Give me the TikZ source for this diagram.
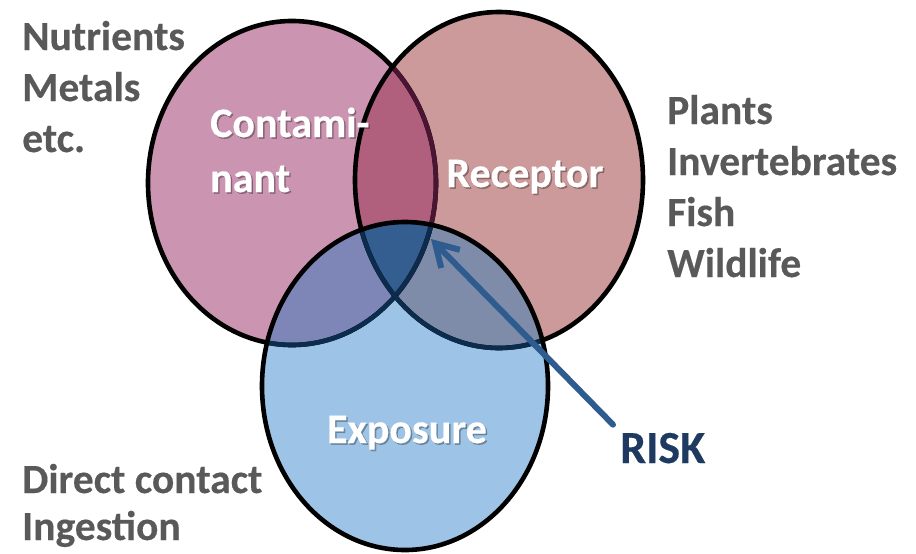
\documentclass[tikz,border=0pt]{standalone}
\usepackage{fontspec}
\setmainfont{Carlito}[BoldFeatures={FakeBold=0.35}]
\usetikzlibrary{arrows.meta}

\definecolor{contfill}{HTML}{CB95B1}
\definecolor{recfill}{HTML}{CC9A9A}
\definecolor{expfill}{HTML}{9DC4E6}
\definecolor{crfill}{HTML}{B0607C}
\definecolor{cefill}{HTML}{7D86B6}
\definecolor{refill}{HTML}{7E8CAA}
\definecolor{allfill}{HTML}{345E90}
\definecolor{ringmaroon}{HTML}{4A1532}
\definecolor{ringnavy}{HTML}{0B2C4C}
\definecolor{listgray}{HTML}{595959}
\definecolor{risknavy}{HTML}{1F3A60}
\definecolor{arrowblue}{HTML}{2F5C8F}

\tikzset{
  ring/.style={line width=4.6pt},
  listtext/.style={anchor=base west, inner sep=0pt, text=listgray,
    font=\fontsize{41.5}{48}\selectfont\bfseries},
  setname/.style={inner sep=0pt, text=white,
    font=\fontsize{42}{50}\selectfont\bfseries},
  setshadow/.style={setname, text=black, text opacity=0.3},
  riskarrow/.style={draw=arrowblue, line width=6pt, line cap=round, line join=round,
    -{Straight Barb[length=22pt,width=26pt]}},
}

\begin{document}
\begin{tikzpicture}[x=1pt,y=-1pt]
\useasboundingbox (0,0) rectangle (916,554);

% filled regions of the three sets
\fill[contfill] (292,183) ellipse [x radius=144pt, y radius=162pt];
\fill[recfill] (499,180) ellipse [x radius=144pt, y radius=168pt];
\fill[expfill] (405,386) ellipse [x radius=143pt, y radius=164pt];
\begin{scope}
  \clip (292,183) ellipse [x radius=144pt, y radius=162pt];
  \fill[crfill] (499,180) ellipse [x radius=144pt, y radius=168pt];
  \fill[cefill] (405,386) ellipse [x radius=143pt, y radius=164pt];
\end{scope}
\begin{scope}
  \clip (499,180) ellipse [x radius=144pt, y radius=168pt];
  \fill[refill] (405,386) ellipse [x radius=143pt, y radius=164pt];
\end{scope}
\begin{scope}
  \clip (292,183) ellipse [x radius=144pt, y radius=162pt];
  \clip (499,180) ellipse [x radius=144pt, y radius=168pt];
  \fill[allfill] (405,386) ellipse [x radius=143pt, y radius=164pt];
\end{scope}

% outlines, tinted where they lie under another set
\draw[ring] (292,183) ellipse [x radius=144pt, y radius=162pt];
\begin{scope}
  \clip (499,180) ellipse [x radius=144pt, y radius=168pt];
  \draw[ring, ringmaroon] (292,183) ellipse [x radius=144pt, y radius=162pt];
\end{scope}
\begin{scope}
  \clip (405,386) ellipse [x radius=143pt, y radius=164pt];
  \draw[ring, ringnavy] (292,183) ellipse [x radius=144pt, y radius=162pt];
\end{scope}
\draw[ring] (499,180) ellipse [x radius=144pt, y radius=168pt];
\begin{scope}
  \clip (405,386) ellipse [x radius=143pt, y radius=164pt];
  \draw[ring, ringnavy] (499,180) ellipse [x radius=144pt, y radius=168pt];
\end{scope}
\draw[ring] (405,386) ellipse [x radius=143pt, y radius=164pt];

% set names with a soft shadow
\node[setshadow, anchor=base west] (cont1s) at (211.5,138.5) {Contami-};
\node[setname, anchor=base west] (cont1) at (210,137) {Contami-};
\node[setshadow, anchor=base west] (cont2s) at (211.5,193.5) {nant};
\node[setname, anchor=base west] (cont2) at (210,192) {nant};
\node[setshadow, anchor=base] (recs) at (526.5,188.5) {Receptor};
\node[setname, anchor=base] (rec) at (525,187) {Receptor};
\node[setshadow, anchor=base] (exps) at (408.5,444.5) {Exposure};
\node[setname, anchor=base] (exp) at (407,443) {Exposure};

% lists of examples
\node[listtext] (nutr) at (22,50) {Nutrients};
\node[listtext] (metal) at (22,101) {Metals};
\node[listtext] (etc) at (22,152) {etc.};
\node[listtext] (plant) at (667,124) {Plants};
\node[listtext] (invert) at (667,175) {Invertebrates};
\node[listtext] (fish) at (667,226) {Fish};
\node[listtext] (wild) at (667,277) {Wildlife};
\node[listtext] (direct) at (22,493) {Direct contact};
\node[listtext] (ingest) at (22,540) {Ingestion};

% risk label and arrow into the common region
\node[anchor=base west, inner sep=0pt, text=risknavy,
  font=\fontsize{46}{54}\selectfont\bfseries] (risk) at (620,463) {RISK};
\coordinate (risktip) at (431,239);
\draw[riskarrow] ([shift={(-7,-8)}]risk.north west) -- (risktip);
\end{tikzpicture}
\end{document}
